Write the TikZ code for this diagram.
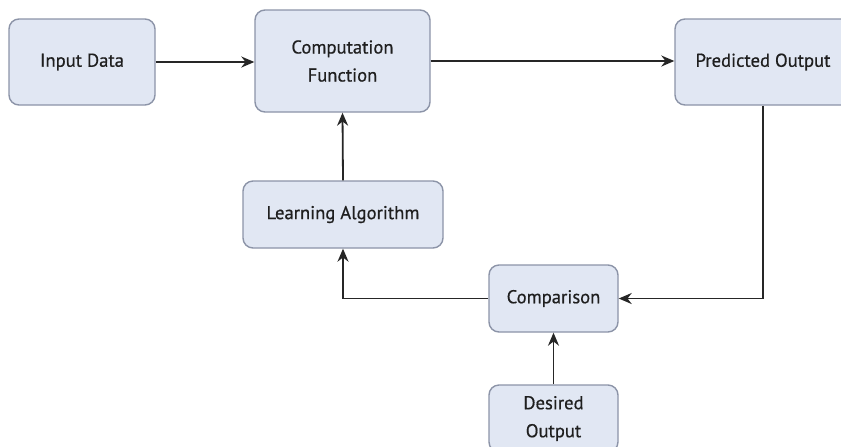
\documentclass[tikz,border=0pt]{standalone}
\usepackage{fontspec}
\setmainfont{PT Sans}[FakeBold=0.6]
\usetikzlibrary{arrows.meta}
\definecolor{boxfill}{HTML}{E1E7F3}
\definecolor{boxline}{HTML}{8C94A8}
\definecolor{lineclr}{HTML}{262626}
\tikzset{
  block/.style = {draw = boxline, fill = boxfill, line width = 0.7pt, rounded corners = 5pt,
                  align = center, font = \fontsize{9.3}{14}\selectfont, text = black!88},
  flow/.style  = {draw = lineclr, line width = 0.9pt, -{Stealth[length=6.5pt,width=5.5pt]}}
}
\begin{document}
\begin{tikzpicture}[x = 0.5pt, y = -0.5pt]
\useasboundingbox (0,0) rectangle (841,446);
\fill[white] (0,0) rectangle (841,446);
\node[block, minimum width = 73pt, minimum height = 43pt] (input) at (82,62) {Input Data};
\node[block, minimum width = 87.5pt, minimum height = 51pt] (comp) at (342.5,61) {Computation\\Function};
\node[block, minimum width = 88pt, minimum height = 43pt] (pred) at (763,62) {Predicted Output};
\node[block, minimum width = 100pt, minimum height = 33.5pt] (learn) at (343,214.5) {Learning Algorithm};
\node[block, minimum width = 64.5pt, minimum height = 33.5pt] (cmp) at (553.5,298.5) {Comparison};
\node[block, minimum width = 64.5pt, minimum height = 33.5pt] (desired) at (553.5,418.5) {Desired\\Output};
% forward path
\draw[flow] (input) -- (input -| comp.west);
\draw[flow] (comp) -- (comp -| pred.west);
% feedback loop
\draw[flow] (pred.south) |- (cmp.east);
\draw[flow] (cmp.west) -| (learn.south);
\draw[flow] (learn.north) -- (comp.south);
\draw[flow] (desired.north) -- (cmp.south);
\end{tikzpicture}
\end{document}
